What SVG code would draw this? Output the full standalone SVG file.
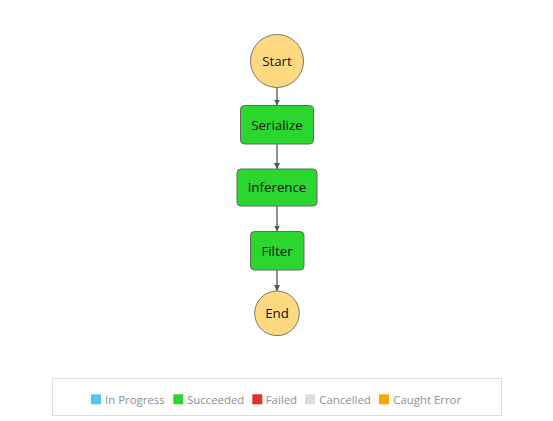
<svg xmlns="http://www.w3.org/2000/svg" width="553" height="421" viewBox="0 0 553 421">
<style>
.state{fill:#2bd62e;stroke:#666;stroke-width:1}
.term{fill:#ffd97f;stroke:#777;stroke-width:1}
.lbl{font-family:"Open Sans","DejaVu Sans",sans-serif;font-size:13.3px;fill:#111;text-anchor:middle}
.edge{stroke:#555;stroke-width:1.3;fill:none}
.leg{font-family:"Open Sans","DejaVu Sans",sans-serif;font-size:11.4px;fill:#879196}
</style>
<defs>
<marker id="arr" viewBox="0 0 10 10" refX="10" refY="5" markerWidth="6" markerHeight="7" orient="auto" markerUnits="userSpaceOnUse">
<path d="M0,0 L10,5 L0,10 z" fill="#555"/>
</marker>
</defs>
<rect width="553" height="421" fill="#fff"/>
<g id="connectors">
<line class="edge" x1="277" y1="88" x2="277" y2="105.5" marker-end="url(#arr)"/>
<line class="edge" x1="277" y1="144" x2="277" y2="169" marker-end="url(#arr)"/>
<line class="edge" x1="277" y1="206" x2="277" y2="231.5" marker-end="url(#arr)"/>
<line class="edge" x1="277" y1="270" x2="277" y2="291" marker-end="url(#arr)"/>
</g>
<g id="start">
<circle class="term" cx="277" cy="61" r="26.5"/>
<text class="lbl" x="277" y="66">Start</text>
</g>
<g id="serialize">
<rect class="state" x="240.5" y="105.5" width="73" height="38.5" rx="4"/>
<text class="lbl" x="277" y="129.5">Serialize</text>
</g>
<g id="inference">
<rect class="state" x="237" y="169" width="80" height="37" rx="4"/>
<text class="lbl" x="277" y="192">Inference</text>
</g>
<g id="filter">
<rect class="state" x="250.5" y="231.5" width="53.5" height="38.5" rx="4"/>
<text class="lbl" x="277" y="255.5">Filter</text>
</g>
<g id="end">
<circle class="term" cx="277" cy="313.3" r="22.3"/>
<text class="lbl" x="277" y="318.3">End</text>
</g>
<g id="legend">
<rect x="52.5" y="378.5" width="449" height="37" fill="#fff" stroke="#ddd" stroke-width="1"/>
<rect x="91" y="394.3" width="10" height="10" fill="#4fc5ec"/>
<text class="leg" x="105" y="403.5">In Progress</text>
<rect x="173.3" y="394.3" width="10" height="10" fill="#2bd62e"/>
<text class="leg" x="187" y="403.5">Succeeded</text>
<rect x="252.3" y="394.3" width="10" height="10" fill="#de322f"/>
<text class="leg" x="265.7" y="403.5">Failed</text>
<rect x="305" y="394.3" width="10" height="10" fill="#dddddd"/>
<text class="leg" x="319.3" y="403.5">Cancelled</text>
<rect x="379" y="394.3" width="10" height="10" fill="#ffa500"/>
<text class="leg" x="393.3" y="403.5">Caught Error</text>
</g>
</svg>
